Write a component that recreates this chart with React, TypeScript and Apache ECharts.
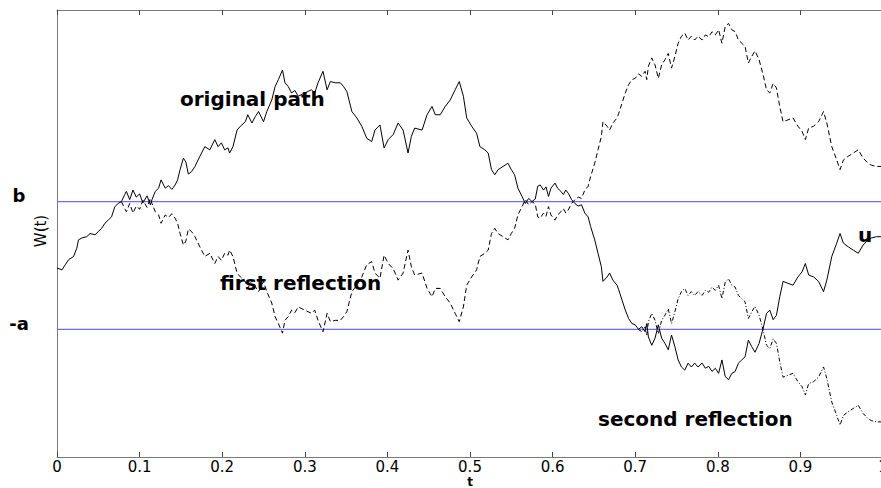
import React, { useEffect, useRef } from "react";
import * as echarts from "echarts";

// time grid (t)
const T = [
  0, 0.006, 0.010, 0.014, 0.020, 0.024, 0.026, 0.030, 0.036, 0.040,
  0.046, 0.050, 0.054, 0.058, 0.062, 0.066, 0.070, 0.074, 0.078, 0.082,
  0.084, 0.088, 0.092, 0.096, 0.100, 0.104, 0.109, 0.113, 0.115, 0.119,
  0.123, 0.126, 0.131, 0.135, 0.139, 0.143, 0.146, 0.149, 0.153, 0.156,
  0.159, 0.163, 0.167, 0.173, 0.179, 0.185, 0.191, 0.195, 0.199, 0.203,
  0.207, 0.209, 0.213, 0.218, 0.222, 0.228, 0.231, 0.236, 0.240, 0.244,
  0.250, 0.254, 0.260, 0.264, 0.268, 0.273, 0.276, 0.280, 0.284, 0.288,
  0.292, 0.300, 0.308, 0.312, 0.316, 0.322, 0.327, 0.331, 0.337, 0.343,
  0.347, 0.351, 0.357, 0.363, 0.369, 0.375, 0.381, 0.385, 0.391, 0.396,
  0.401, 0.407, 0.413, 0.419, 0.425, 0.429, 0.433, 0.442, 0.448, 0.454,
  0.458, 0.464, 0.470, 0.476, 0.482, 0.487, 0.492, 0.496, 0.502, 0.508,
  0.512, 0.518, 0.522, 0.526, 0.530, 0.534, 0.540, 0.546, 0.550, 0.554,
  0.558, 0.563, 0.567, 0.571, 0.575, 0.579, 0.582, 0.585, 0.589, 0.592,
  0.595, 0.598, 0.603, 0.606, 0.610, 0.613, 0.616, 0.619, 0.623, 0.627,
  0.631, 0.635, 0.639, 0.643, 0.646, 0.651, 0.655, 0.659, 0.661, 0.666,
  0.669, 0.673, 0.678, 0.680, 0.684, 0.688, 0.692, 0.696, 0.700, 0.704,
  0.708, 0.712, 0.714, 0.716, 0.720, 0.724, 0.728, 0.732, 0.736, 0.740,
  0.744, 0.748, 0.752, 0.756, 0.760, 0.764, 0.768, 0.772, 0.776, 0.781,
  0.785, 0.789, 0.793, 0.797, 0.801, 0.805, 0.809, 0.813, 0.817, 0.821,
  0.825, 0.829, 0.833, 0.837, 0.841, 0.845, 0.850, 0.855, 0.859, 0.863,
  0.867, 0.871, 0.875, 0.879, 0.885, 0.891, 0.897, 0.902, 0.906, 0.910,
  0.916, 0.922, 0.928, 0.932, 0.938, 0.944, 0.948, 0.952, 0.958, 0.964,
  0.970, 0.976, 0.982, 0.986, 0.992, 0.998, 1.000,
];

// original path W(t)  (b = 0, -a = -2)
const ORIGINAL = [
  -1.04, -1.07, -0.99, -0.91, -0.86, -0.73, -0.60, -0.57, -0.55, -0.50,
  -0.52, -0.47, -0.42, -0.34, -0.29, -0.24, -0.08, -0.03, 0, 0.11,
  0.16, 0.03, 0.18, 0.07, 0.12, -0.02, 0.09, -0.05, 0.03, 0.16,
  0.21, 0.34, 0.21, 0.25, 0.19, 0.26, 0.34, 0.50, 0.68, 0.62,
  0.43, 0.47, 0.55, 0.71, 0.86, 0.81, 0.97, 0.86, 0.92, 0.81,
  0.84, 0.76, 0.86, 1.12, 1.18, 1.25, 1.36, 1.23, 1.33, 1.41,
  1.25, 1.41, 1.59, 1.80, 1.91, 2.06, 1.86, 1.80, 1.70, 1.74,
  1.65, 1.70, 1.75, 1.70, 1.86, 2.04, 1.75, 1.88, 1.86, 1.86,
  1.80, 1.72, 1.41, 1.31, 1.18, 0.99, 0.94, 1.12, 1.20, 0.84,
  0.97, 1.05, 1.23, 1.12, 0.76, 1.02, 1.15, 1.12, 1.36, 1.49,
  1.36, 1.36, 1.49, 1.59, 1.75, 1.88, 1.65, 1.31, 1.18, 1.07,
  0.86, 0.81, 0.76, 0.50, 0.42, 0.50, 0.55, 0.60, 0.50, 0.42,
  0.21, 0.08, -0.03, 0.05, 0, 0.04, 0.24, 0.26, 0.18, 0.23,
  0.08, 0.21, 0.29, 0.21, 0.16, 0.11, 0.18, 0.13, 0.03, -0.03,
  -0.07, -0.05, -0.18, -0.24, -0.39, -0.60, -0.81, -1.02, -1.25, -1.18,
  -1.12, -1.23, -1.31, -1.38, -1.54, -1.70, -1.83, -1.91, -1.93, -2,
  -1.96, -2.04, -1.91, -2.12, -2.25, -2.14, -1.93, -2.14, -2.22, -2.32,
  -2.09, -2.27, -2.48, -2.59, -2.64, -2.53, -2.59, -2.53, -2.59, -2.53,
  -2.61, -2.58, -2.66, -2.61, -2.69, -2.48, -2.74, -2.79, -2.69, -2.66,
  -2.53, -2.48, -2.43, -2.17, -2.27, -2.36, -2.22, -1.98, -1.75, -1.70,
  -1.85, -1.78, -1.49, -1.25, -1.28, -1.31, -1.18, -1.10, -0.97, -1.15,
  -1.18, -1.25, -1.41, -1.23, -0.86, -0.65, -0.50, -0.65, -0.71, -0.76,
  -0.81, -0.68, -0.60, -0.57, -0.55, -0.55, -0.55,
];

// first reflection (starts at T[18])
const FIRST_START = 18;
const FIRST_REFLECTION = [
  0, -0.11,
  -0.16, -0.03, -0.18, -0.07, -0.12, 0.02, -0.09, 0.05, -0.03, -0.16,
  -0.21, -0.34, -0.21, -0.25, -0.19, -0.26, -0.34, -0.50, -0.68, -0.62,
  -0.43, -0.47, -0.55, -0.71, -0.86, -0.81, -0.97, -0.86, -0.92, -0.81,
  -0.84, -0.76, -0.86, -1.12, -1.18, -1.25, -1.36, -1.23, -1.33, -1.41,
  -1.25, -1.41, -1.59, -1.80, -1.91, -2.06, -1.86, -1.80, -1.70, -1.74,
  -1.65, -1.70, -1.75, -1.70, -1.86, -2.04, -1.75, -1.88, -1.86, -1.86,
  -1.80, -1.72, -1.41, -1.31, -1.18, -0.99, -0.94, -1.12, -1.20, -0.84,
  -0.97, -1.05, -1.23, -1.12, -0.76, -1.02, -1.15, -1.12, -1.36, -1.49,
  -1.36, -1.36, -1.49, -1.59, -1.75, -1.88, -1.65, -1.31, -1.18, -1.07,
  -0.86, -0.81, -0.76, -0.50, -0.42, -0.50, -0.55, -0.60, -0.50, -0.42,
  -0.21, -0.08, 0.03, -0.05, 0, -0.04, -0.24, -0.26, -0.18, -0.23,
  -0.08, -0.21, -0.29, -0.21, -0.16, -0.11, -0.18, -0.13, -0.03, 0.03,
  0.07, 0.05, 0.18, 0.24, 0.39, 0.60, 0.81, 1.02, 1.25, 1.18,
  1.12, 1.23, 1.31, 1.38, 1.54, 1.70, 1.83, 1.91, 1.93, 2,
  1.96, 2.04, 1.91, 2.12, 2.25, 2.14, 1.93, 2.14, 2.22, 2.32,
  2.09, 2.27, 2.48, 2.59, 2.64, 2.53, 2.59, 2.53, 2.59, 2.53,
  2.61, 2.58, 2.66, 2.61, 2.69, 2.48, 2.74, 2.79, 2.69, 2.66,
  2.53, 2.48, 2.43, 2.17, 2.27, 2.36, 2.22, 1.98, 1.75, 1.70,
  1.85, 1.78, 1.49, 1.25, 1.28, 1.31, 1.18, 1.10, 0.97, 1.15,
  1.18, 1.25, 1.41, 1.23, 0.86, 0.65, 0.50, 0.65, 0.71, 0.76,
  0.81, 0.68, 0.60, 0.57, 0.55, 0.55, 0.55,
];

// second reflection (starts at T[159])
const SECOND_START = 159;
const SECOND_REFLECTION = [
  -2, -2.04, -1.96, -2.09, -1.88, -1.75, -1.86, -2.07, -1.86, -1.78, -1.68,
  -1.91, -1.73, -1.52, -1.41, -1.36, -1.47, -1.41, -1.47, -1.41, -1.47,
  -1.39, -1.42, -1.34, -1.39, -1.31, -1.52, -1.26, -1.21, -1.31, -1.34,
  -1.47, -1.52, -1.57, -1.83, -1.73, -1.64, -1.78, -2.02, -2.25, -2.30,
  -2.15, -2.22, -2.51, -2.75, -2.72, -2.69, -2.82, -2.90, -3.03, -2.85,
  -2.82, -2.75, -2.59, -2.77, -3.14, -3.35, -3.50, -3.35, -3.29, -3.24,
  -3.19, -3.32, -3.40, -3.43, -3.45, -3.45, -3.45,
];

const LEVEL_B = 0;
const LEVEL_NEG_A = -2;
const LEVEL_LABELS: Record<string, string> = { "0": "b", "-2": "-a" };
const ANNOTATIONS = ["original path", "first reflection", "second reflection", "u"];
const X_NAME = "t";
const Y_NAME = "W(t)";

const pairs = (vals: number[], start: number) => vals.map((v, i) => [T[start + i], v]);

export default function App() {
  const ref = useRef<HTMLDivElement>(null);
  useEffect(() => {
    const chart = echarts.init(ref.current!, null, { renderer: "svg" });
    const axisColor = "#7a7a7a";
    const levelColor = "#6c6cff";
    const txt = (text: string, x: number, y: number, font: string, align = "left", rotation = 0) => ({
      type: "text",
      x,
      y,
      rotation,
      z: 10,
      style: {
        text,
        font,
        fill: "#000",
        textAlign: align,
        textVerticalAlign: "middle",
        align,
        verticalAlign: "middle",
      },
    });
    const annoFont = 'bold 20px "DejaVu Sans"';
    const levelSeries = (level: number) => ({
      type: "line",
      data: [
        [0, level],
        [1, level],
      ],
      showSymbol: false,
      silent: true,
      itemStyle: { color: levelColor },
      lineStyle: { color: levelColor, width: 1.3, type: "solid" },
      z: 2,
    });
    chart.setOption({
      animation: false,
      backgroundColor: "#fff",
      grid: { left: 57, top: 10, width: 826, height: 447, outerBoundsMode: "none", containLabel: false },
      xAxis: [
        {
          type: "value",
          min: 0,
          max: 1,
          interval: 0.1,
          position: "bottom",
          axisLine: { onZero: false, lineStyle: { color: axisColor, width: 1 } },
          axisTick: { inside: true, length: 5, lineStyle: { color: "#444" } },
          axisLabel: {
            color: "#000",
            fontFamily: "DejaVu Sans",
            fontSize: 15,
            lineHeight: 12,
            margin: 4,
            formatter: (v: number) => String(Math.round(v * 10) / 10),
          },
          splitLine: { show: false },
        },
        {
          type: "value",
          min: 0,
          max: 1,
          interval: 0.1,
          position: "top",
          axisLine: { onZero: false, lineStyle: { color: axisColor, width: 1 } },
          axisTick: { inside: true, length: 5, lineStyle: { color: "#444" } },
          axisLabel: { show: false },
          splitLine: { show: false },
        },
      ],
      yAxis: {
        type: "value",
        min: -4,
        max: 3,
        interval: 1,
        axisLine: { show: true, onZero: false, lineStyle: { color: axisColor, width: 1 } },
        axisTick: { show: false },
        splitLine: { show: false },
        axisLabel: {
          color: "#000",
          fontFamily: "DejaVu Sans",
          fontWeight: "bold",
          fontSize: 18,
          align: "center",
          margin: 38,
          verticalAlign: "bottom",
          lineHeight: 12,
          formatter: (v: number) => LEVEL_LABELS[String(v)] || "",
        },
      },
      series: [
        levelSeries(LEVEL_B),
        levelSeries(LEVEL_NEG_A),
        {
          type: "line",
          name: "first reflection",
          data: pairs(FIRST_REFLECTION, FIRST_START),
          showSymbol: false,
          lineStyle: { color: "#000", width: 1, type: [5, 3] },
          z: 3,
        },
        {
          type: "line",
          name: "second reflection",
          data: pairs(SECOND_REFLECTION, SECOND_START),
          showSymbol: false,
          lineStyle: { color: "#000", width: 1, type: [4, 2, 1, 2] },
          z: 3,
        },
        {
          type: "line",
          name: "original path",
          data: pairs(ORIGINAL, 0),
          showSymbol: false,
          lineStyle: { color: "#000", width: 1 },
          z: 4,
        },
      ],
      graphic: [
        txt(ANNOTATIONS[0], 180, 99, annoFont),
        txt(ANNOTATIONS[1], 220, 283, annoFont),
        txt(ANNOTATIONS[2], 598, 419, annoFont),
        txt(ANNOTATIONS[3], 858, 235, annoFont),
        txt(X_NAME, 470, 481.5, 'bold 12px "DejaVu Sans"', "center"),
        txt(Y_NAME, 41, 231, '15px "DejaVu Sans"', "center", Math.PI / 2),
      ],
    });
    return () => chart.dispose();
  }, []);
  return (
    <div
      ref={ref}
      style={{ position: "fixed", left: 0, top: 0, width: 881, height: 488, background: "#fff" }}
    />
  );
}
